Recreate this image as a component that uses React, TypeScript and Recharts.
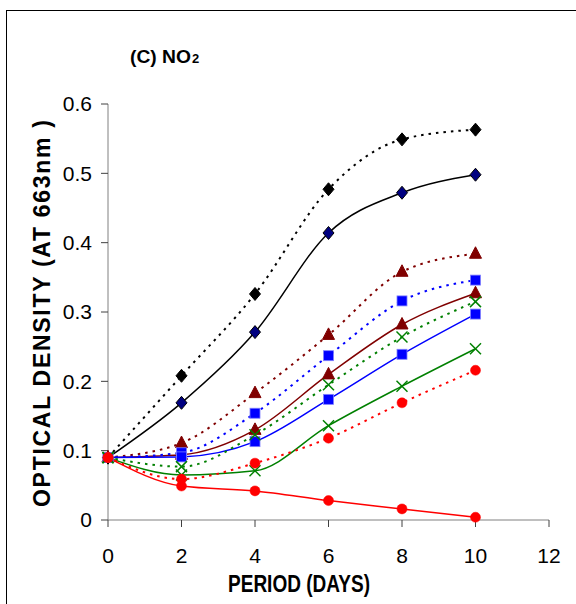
import { Line, LineChart, XAxis, YAxis } from "recharts";

// days of incubation
const days = [0, 2, 4, 6, 8, 10];

// optical density readings, one array per treatment
const blackDotted = [0.09, 0.208, 0.326, 0.477, 0.549, 0.563];
const blackSolid = [0.09, 0.169, 0.271, 0.414, 0.472, 0.498];
const maroonDotted = [0.09, 0.111, 0.183, 0.267, 0.358, 0.384];
const maroonSolid = [0.09, 0.094, 0.13, 0.21, 0.282, 0.327];
const blueDotted = [0.09, 0.097, 0.154, 0.237, 0.316, 0.346];
const blueSolid = [0.09, 0.091, 0.113, 0.174, 0.239, 0.297];
const greenDotted = [0.09, 0.077, 0.123, 0.195, 0.264, 0.315];
const greenSolid = [0.09, 0.065, 0.071, 0.136, 0.193, 0.247];
const redDotted = [0.09, 0.059, 0.082, 0.118, 0.169, 0.216];
const redSolid = [0.09, 0.049, 0.042, 0.028, 0.016, 0.004];

const xTicks = [0, 2, 4, 6, 8, 10, 12];
const yTicks = [0, 0.1, 0.2, 0.3, 0.4, 0.5, 0.6];

const rows = days.map((d, i) => ({
  day: d,
  blackDotted: blackDotted[i],
  blackSolid: blackSolid[i],
  maroonDotted: maroonDotted[i],
  maroonSolid: maroonSolid[i],
  blueDotted: blueDotted[i],
  blueSolid: blueSolid[i],
  greenDotted: greenDotted[i],
  greenSolid: greenSolid[i],
  redDotted: redDotted[i],
  redSolid: redSolid[i],
}));

type Shape = "diamond" | "triangle" | "square" | "circle" | "cross";

const marker = (shape: Shape, fill: string, stroke: string) => (props: any) => {
  const { cx, cy, index } = props;
  const key = `m-${index}`;
  if (cx == null || cy == null) return <g key={key} />;
  switch (shape) {
    case "diamond":
      return (
        <polygon
          key={key}
          points={`${cx},${cy - 6.5} ${cx + 5.5},${cy} ${cx},${cy + 6.5} ${cx - 5.5},${cy}`}
          fill={fill}
          stroke={stroke}
          strokeWidth={1}
        />
      );
    case "triangle":
      return (
        <polygon
          key={key}
          points={`${cx},${cy - 7} ${cx + 6},${cy + 4.5} ${cx - 6},${cy + 4.5}`}
          fill={fill}
          stroke={stroke}
          strokeWidth={1}
        />
      );
    case "square":
      return <rect key={key} x={cx - 5} y={cy - 5} width={10} height={10} fill={fill} stroke={stroke} strokeWidth={0.8} />;
    case "circle":
      return <circle key={key} cx={cx} cy={cy} r={5} fill={fill} stroke={stroke} strokeWidth={0.5} />;
    default:
      return (
        <g key={key} stroke={stroke} strokeWidth={1.5}>
          <line x1={cx - 5.5} y1={cy - 5.5} x2={cx + 5.5} y2={cy + 5.5} />
          <line x1={cx - 5.5} y1={cy + 5.5} x2={cx + 5.5} y2={cy - 5.5} />
        </g>
      );
  }
};

const series: { key: string; color: string; dotted: boolean; dot: (p: any) => any }[] = [
  { key: "blackDotted", color: "#000000", dotted: true, dot: marker("diamond", "#000000", "#000000") },
  { key: "blackSolid", color: "#000000", dotted: false, dot: marker("diamond", "#000080", "#000000") },
  { key: "maroonDotted", color: "#800000", dotted: true, dot: marker("triangle", "#800000", "#800000") },
  { key: "maroonSolid", color: "#800000", dotted: false, dot: marker("triangle", "#800000", "#800000") },
  { key: "blueDotted", color: "#0000FF", dotted: true, dot: marker("square", "#0000FF", "#8080FF") },
  { key: "blueSolid", color: "#0000FF", dotted: false, dot: marker("square", "#0000FF", "#8080FF") },
  { key: "greenDotted", color: "#008000", dotted: true, dot: marker("cross", "none", "#008000") },
  { key: "greenSolid", color: "#008000", dotted: false, dot: marker("cross", "none", "#008000") },
  { key: "redDotted", color: "#FF0000", dotted: true, dot: marker("circle", "#FF0000", "#FF0000") },
  { key: "redSolid", color: "#FF0000", dotted: false, dot: marker("circle", "#FF0000", "#FF0000") },
];

const tickStyle = { fontSize: 21, fill: "#000000", fontFamily: "'Liberation Sans', Arial, sans-serif" };

export default function App() {
  return (
    <div style={{ position: "absolute", left: 0, top: 0, width: 576, height: 604, background: "#fff" }}>
      <div
        style={{
          position: "absolute",
          left: 6,
          top: 10,
          width: 580,
          height: 600,
          borderLeft: "1.5px solid #000",
          borderTop: "1.5px solid #000",
        }}
      />
      <div style={{ position: "absolute", left: 0, top: 0 }}>
        <LineChart width={576} height={604} data={rows} margin={{ top: 104, right: 27, bottom: 44, left: 8 }}>
          <XAxis
            dataKey="day"
            type="number"
            domain={[0, 12]}
            ticks={xTicks}
            interval={0}
            height={40}
            tickSize={7}
            tickMargin={21}
            stroke="#808080"
            tickLine={{ stroke: "#404040" }}
            tick={tickStyle}
          />
          <YAxis
            type="number"
            domain={[0, 0.6]}
            ticks={yTicks}
            interval={0}
            width={100}
            tickSize={7}
            tickMargin={9}
            stroke="#808080"
            tickLine={{ stroke: "#404040" }}
            tick={tickStyle}
          />
          {series.map((s) => (
            <Line
              key={s.key}
              dataKey={s.key}
              type="monotone"
              stroke={s.color}
              strokeWidth={s.dotted ? 2 : 1.5}
              strokeDasharray={s.dotted ? "2.5 5" : undefined}
              dot={s.dot}
              activeDot={false}
              isAnimationActive={false}
            />
          ))}
        </LineChart>
      </div>
      <svg
        width={576}
        height={604}
        style={{ position: "absolute", left: 0, top: 0, pointerEvents: "none" }}
        fontFamily="'Liberation Sans', Arial, sans-serif"
        fontWeight="bold"
      >
        <text x={130} y={63} fontSize={19} textLength={61} lengthAdjust="spacingAndGlyphs">
          (C) NO
        </text>
        <text x={192} y={63} fontSize={13}>
          2
        </text>
        <text x={228} y={592} fontSize={23} textLength={142} lengthAdjust="spacingAndGlyphs">
          PERIOD (DAYS)
        </text>
        <text
          x={0}
          y={0}
          fontSize={23}
          textLength={387}
          lengthAdjust="spacing"
          transform="translate(50 507) rotate(-90)"
        >
          OPTICAL DENSITY (AT 663nm )
        </text>
      </svg>
    </div>
  );
}
